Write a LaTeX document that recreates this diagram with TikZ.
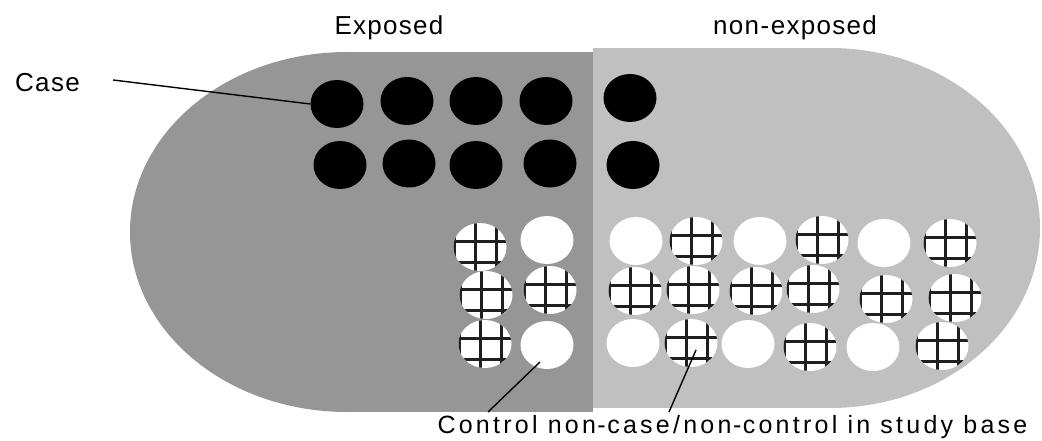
\documentclass[tikz,border=0pt]{standalone}
\usepackage{fontspec}
\setmainfont{Liberation Sans}
\newfontfamily\toplab[LetterSpace=5]{Liberation Sans}
\newfontfamily\botlab[LetterSpace=13]{Liberation Sans}
\usetikzlibrary{shapes.geometric}
\definecolor{darkg}{RGB}{150,150,150}
\definecolor{lightg}{RGB}{192,192,192}
\newcommand{\hy}{\kern1.5pt-\kern1.5pt}
\begin{document}
\begin{tikzpicture}[x=1pt,y=-1pt,
  gridln/.style={line width=3pt, black!88},
  blk/.style={ellipse,fill=black,minimum width=53pt,minimum height=48pt,inner sep=0pt},
  wht/.style={ellipse,fill=white,minimum width=53pt,minimum height=48pt,inner sep=0pt},
  hatch/.style={wht, path picture={
     \foreach \d in {-26,-5,16}{\draw[gridln] ([xshift=\d pt]path picture bounding box.north) -- ([xshift=\d pt]path picture bounding box.south);}
     \foreach \d in {27,6,-15}{\draw[gridln] ([yshift=\d pt]path picture bounding box.west) -- ([yshift=\d pt]path picture bounding box.east);}
  }},
  toplbl/.style={font=\toplab\fontsize{26}{30}\selectfont, inner sep=0pt},
  botlbl/.style={font=\botlab\fontsize{25}{30}\selectfont, inner sep=0pt},
  conn/.style={line width=1.4pt, black}
]
\useasboundingbox (0,0) rectangle (1042,441);
% base shapes
\fill[darkg] (347,232) ellipse [x radius=217pt, y radius=180pt];
\fill[darkg] (347,52) rectangle (593,412);
\fill[lightg] (830,228) ellipse [x radius=210pt, y radius=180pt];
\fill[lightg] (593,48) rectangle (830,408);
% cases
\node[blk] (k1) at (337,104) {};
\node[blk] (k2) at (407,101) {};
\node[blk] (k3) at (476,101) {};
\node[blk] (k4) at (546,101) {};
\node[blk] (k5) at (630,98) {};
\node[blk] (k6) at (340,165) {};
\node[blk] (k7) at (409,163.5) {};
\node[blk] (k8) at (476,165) {};
\node[blk] (k9) at (550,163.5) {};
\node[blk] (k10) at (633,165) {};
% left cluster
\node[hatch] (la1) at (480,247) {};
\node[wht]   (la2) at (547,240) {};
\node[hatch] (lb1) at (486,295) {};
\node[hatch] (lb2) at (550,290) {};
\node[hatch] (lc1) at (485,344) {};
\node[wht]   (lc2) at (547,345) {};
% right cluster
\node[wht]   (ra1) at (636,241) {};
\node[hatch] (ra2) at (696,241) {};
\node[wht]   (ra3) at (760,241) {};
\node[hatch] (ra4) at (822,240) {};
\node[wht]   (ra5) at (884,243) {};
\node[hatch] (ra6) at (950,243) {};
\node[hatch] (rb1) at (635,291) {};
\node[hatch] (rb2) at (693,290) {};
\node[hatch] (rb3) at (756,291) {};
\node[hatch] (rb4) at (813,289) {};
\node[hatch] (rb5) at (886,299) {};
\node[hatch] (rb6) at (955,298) {};
\node[wht]   (rc1) at (633,343) {};
\node[hatch] (rc2) at (691,343) {};
\node[wht]   (rc3) at (748,344) {};
\node[hatch] (rc4) at (810,347) {};
\node[wht]   (rc5) at (873,347) {};
\node[hatch] (rc6) at (942,346) {};
% labels
\node[toplbl, anchor=base] (exp) at (389,35) {Exposed};
\node[toplbl, anchor=base] (nexp) at (795,35) {non\hy exposed};
\node[toplbl, anchor=base east] (case) at (80,92) {Case};
\node[botlbl, anchor=base] (ctl) at (732.5,433) {Control non\hy case/non\hy control in study base};
% connectors
\coordinate (caseend) at (113,80);
\coordinate (pa) at (488,412);
\coordinate (pb) at (669,412);
\draw[conn] (caseend) -- (k1.west);
\draw[conn] ([xshift=-7pt,yshift=-17pt]lc2.center) -- (pa);
\draw[conn] ([xshift=5pt,yshift=-7pt]rc2.center) -- (pb);
\end{tikzpicture}
\end{document}
